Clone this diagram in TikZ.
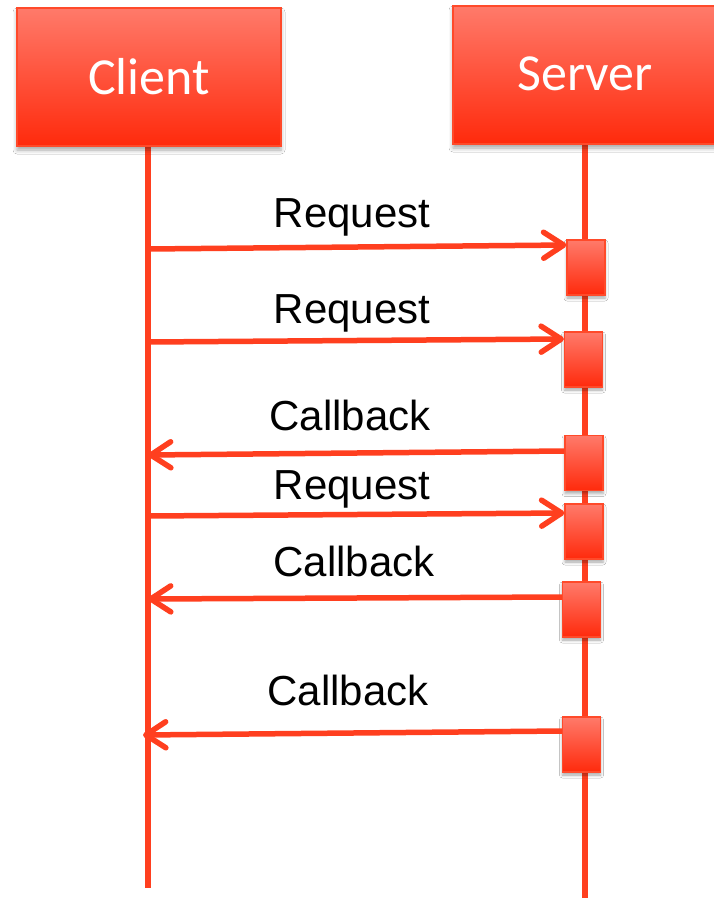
\documentclass[tikz,border=0pt]{standalone}
\usepackage{fontspec}
\setmainfont{Liberation Sans}
\newfontfamily\headfont{Carlito}
\usetikzlibrary{arrows.meta,shadows.blur}
\definecolor{lifered}{HTML}{FF3F1F}
\definecolor{boxtop}{HTML}{FF7A6A}
\definecolor{boxbot}{HTML}{FF2A0C}
\definecolor{boxedge}{HTML}{FF4A2A}
\tikzset{
  x=1pt, y=-1pt,
  actor/.style={rectangle, draw=boxedge, line width=1.2pt, top color=boxtop, bottom color=boxbot,
    minimum width=264pt, minimum height=138pt, inner sep=0pt, text=white,
    font=\headfont\fontsize{52}{52}\selectfont,
    blur shadow={shadow xshift=0pt, shadow yshift=-4pt, shadow blur radius=4pt, shadow opacity=35}},
  actbox/.style={rectangle, draw=boxedge, line width=1.2pt, top color=boxtop, bottom color=boxbot,
    minimum width=38pt, minimum height=55pt, inner sep=0pt,
    blur shadow={shadow xshift=0pt, shadow yshift=-3pt, shadow blur radius=3pt, shadow opacity=35}},
  lifeline/.style={draw=lifered, line width=5.5pt},
  msg/.style={draw=lifered, line width=5.5pt,
    -{Straight Barb[length=20pt, width=26pt, line cap=round, line join=round]}},
  msglabel/.style={anchor=base, font=\fontsize{42}{42}\selectfont, inner sep=0pt}
}
\begin{document}
\begin{tikzpicture}
\useasboundingbox (0,0) rectangle (714,898);
\fill[white] (0,0) rectangle (714,898);

% lifelines
\coordinate (clTop) at (148,146);
\coordinate (clBot) at (148,888);
\coordinate (svTop) at (585,144);
\coordinate (svBot) at (585,898);
\draw[lifeline] (clTop) -- (clBot);
\draw[lifeline] (svTop) -- (svBot);

% actors
\node[actor] (client) at (149,77) {Client};
\begin{scope}
\clip (0,0) rectangle (714,898);
\node[actor, text depth=0pt, text height=30pt] (server) at (585,75) {Server};
\end{scope}

% activation boxes on the server lifeline
\node[actbox] (a1) at (586,267.5) {};
\node[actbox] (a2) at (583.5,359.5) {};
\node[actbox] (a3) at (584,463) {};
\node[actbox] (a4) at (584,531.5) {};
\node[actbox] (a5) at (581.5,609.5) {};
\node[actbox] (a6) at (581.5,744.5) {};

% message end points on the client lifeline
\coordinate (c1) at (148,249);
\coordinate (c2) at (148,342);
\coordinate (c3) at (148,455);
\coordinate (c4) at (148,516);
\coordinate (c5) at (148,599);
\coordinate (c6) at (143,735);

% requests
\draw[msg] (c1) -- (a1.west |- 0,245);
\draw[msg] (c2) -- (a2.west |- 0,339);
\draw[msg] (c4) -- (a4.west |- 0,513);
% callbacks
\draw[msg] (a3.west |- 0,451) -- (c3);
\draw[msg] (a5.west |- 0,597) -- (c5);
\draw[msg] (a6.west |- 0,731) -- (c6);

% labels
\node[msglabel] (l1) at (352,227) {Request};
\node[msglabel] (l2) at (352,323) {Request};
\node[msglabel] (l3) at (350,430) {Callback};
\node[msglabel] (l4) at (352,499) {Request};
\node[msglabel] (l5) at (354,576) {Callback};
\node[msglabel] (l6) at (348,705) {Callback};
\end{tikzpicture}
\end{document}
